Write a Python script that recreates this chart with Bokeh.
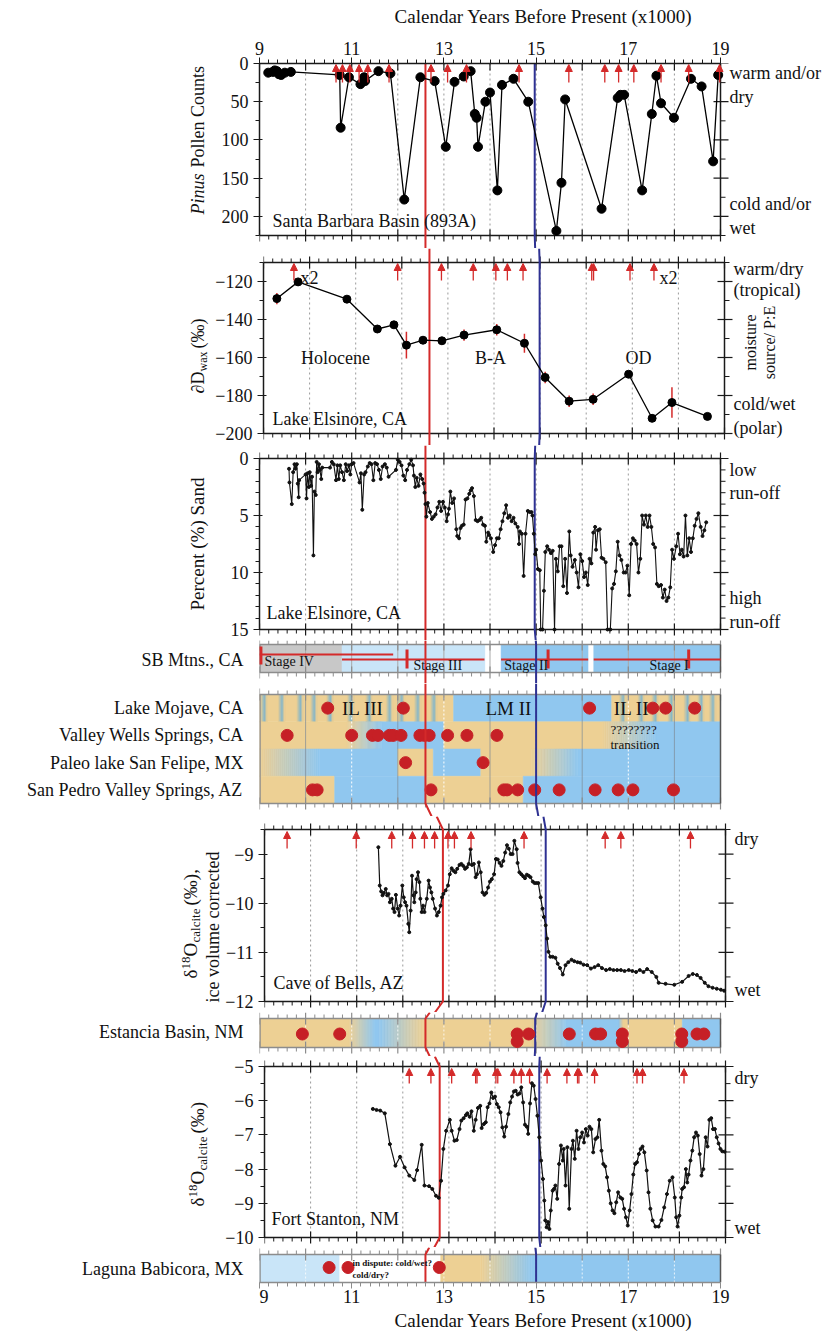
import numpy as np
from bokeh.plotting import figure
from bokeh.layouts import column, row
from bokeh.models import (Range1d, LinearAxis, FixedTicker, Label, Arrow,
                          NormalHead, ColumnDataSource)
from bokeh.embed import file_html
from bokeh.resources import INLINE

# ===================== DATA =====================
X_TICKS = [9, 11, 13, 15, 17, 19]
X_TITLE = "Calendar Years Before Present (x1000)"

pollen_age = [9.19, 9.29, 9.33, 9.38, 9.42, 9.47, 9.55, 9.68, 10.74, 10.76, 10.94, 11.19, 11.27, 11.29,
              11.58, 11.84, 12.14, 12.49, 12.80, 13.04, 13.23, 13.43, 13.58, 13.67, 13.71, 13.74, 13.90,
              14.00, 14.16, 14.26, 14.51, 14.83, 15.44, 15.55, 15.63, 16.42, 16.77, 16.83, 16.91, 17.30,
              17.51, 17.61, 17.71, 17.99, 18.36, 18.59, 18.84, 18.95]
pollen_count = [12, 11, 9, 10, 14, 15, 12, 11, 15, 84, 18, 27, 18, 23,
                10, 13, 178, 18, 23, 109, 24, 17, 10, 66, 71, 109, 50,
                38, 166, 28, 20, 50, 219, 156, 47, 190, 45, 41, 41, 166,
                66, 16, 52, 71, 20, 30, 128, 15]
pollen_arrows = [10.66, 10.80, 10.96, 11.16, 11.35, 11.81, 12.72, 13.08, 13.49, 14.63, 15.71,
                 16.49, 16.79, 17.12, 17.71, 18.31, 18.98]

dD_age = [9.29, 9.75, 10.81, 11.47, 11.83, 12.10, 12.46, 12.87, 13.35, 14.06, 14.66, 15.11,
          15.63, 16.15, 16.92, 17.43, 17.86, 18.63]
dD_val = [-129, -120.2, -129.3, -145, -142.8, -153.5, -150.9, -151.2, -148.2, -145.4, -152.5,
          -170.5, -183, -182, -168.8, -192, -183.7, -191]
dD_err = [3, 1.5, 1.5, 2, 2, 7, 2, 2, 3, 3, 5, 3, 3, 3, 1, 1, 8, 1]
dD_arrows = [9.66, 11.91, 12.86, 13.55, 14.04, 14.29, 14.63, 16.12, 16.16, 16.95, 17.47]

sand_age = [9.64, 9.65, 9.70, 9.73, 9.76, 9.78, 9.81, 9.83, 9.85, 9.86,
            10.00, 10.02, 10.04, 10.07, 10.09, 10.12, 10.14, 10.17, 10.19, 10.22, 10.24, 10.26, 10.29, 10.31, 10.34, 10.36,
            10.53, 10.57, 10.61, 10.66, 10.69, 10.72, 10.75, 10.79, 10.83, 10.87, 10.90, 10.94, 10.97, 11.00, 11.04,
            11.17, 11.20, 11.23, 11.27, 11.30, 11.35, 11.39, 11.43, 11.47, 11.51, 11.55, 11.59, 11.63, 11.67, 11.72, 11.76, 11.80,
            11.96, 12.00, 12.04, 12.08, 12.12, 12.16, 12.20, 12.25, 12.29, 12.33, 12.35, 12.38, 12.41, 12.45, 12.49, 12.53,
            12.56, 12.58, 12.60, 12.62, 12.65,
            12.70, 12.74, 12.78, 12.82, 12.86, 12.90, 12.94, 12.98, 13.02, 13.06, 13.09, 13.11, 13.14, 13.18, 13.22,
            13.27, 13.29, 13.33, 13.36, 13.39, 13.43, 13.47, 13.51, 13.55, 13.58, 13.61, 13.65, 13.69, 13.73, 13.77,
            13.81, 13.85, 13.89, 13.92, 13.96, 13.98, 14.02, 14.07, 14.11, 14.15, 14.19, 14.23, 14.27, 14.31, 14.35,
            14.39, 14.43, 14.47, 14.51, 14.55, 14.60, 14.63, 14.65, 14.69, 14.73, 14.77, 14.82, 14.86, 14.90, 14.92, 14.95,
            14.98, 15.00, 15.04, 15.08, 15.10, 15.14, 15.17, 15.20, 15.24, 15.28, 15.32, 15.36, 15.40, 15.43, 15.47,
            15.51, 15.55, 15.59, 15.63, 15.67, 15.72, 15.75, 15.79, 15.84, 15.88, 15.92, 15.96, 16.00, 16.04, 16.08,
            16.12, 16.16, 16.20, 16.24, 16.28, 16.30, 16.34, 16.38, 16.42, 16.46, 16.51, 16.55, 16.61, 16.65, 16.69,
            16.73, 16.77, 16.81, 16.85, 16.90, 16.94, 16.98, 17.02, 17.06, 17.10, 17.14, 17.18, 17.22, 17.26, 17.30,
            17.34, 17.38, 17.42, 17.46, 17.50, 17.54, 17.58, 17.62, 17.66, 17.71, 17.75, 17.79, 17.83, 17.87, 17.91,
            17.95, 17.99, 18.04, 18.08, 18.12, 18.16, 18.20, 18.24, 18.28, 18.32, 18.36, 18.40, 18.44, 18.48, 18.52,
            18.57, 18.61, 18.65, 18.69]
sand_pct = [0.9, 2.1, 4.0, 1.2, 0.5, 0.9, 0.5, 2.2, 3.4, 1.9,
            1.4, 3.5, 1.3, 2.5, 1.2, 2.4, 1.6, 8.5, 2.9, 3.2, 0.3, 1.2, 0.5, 1.0, 1.8, 0.8,
            0.8, 0.3, 0.5, 1.9, 0.6, 1.8, 0.6, 1.2, 1.9, 0.5, 1.1, 0.6, 1.4, 0.5, 0.4,
            2.1, 1.3, 4.5, 1.4, 1.2, 0.7, 0.4, 0.5, 1.9, 0.4, 0.5, 1.0, 1.8, 0.7, 0.5, 0.8, 1.6,
            1.0, 0.1, 0.3, 0.6, 1.5, 1.9, 1.0, 0.5, 0.1, 0.6, 1.5, 2.5, 1.7, 2.4, 1.4, 1.8,
            2.2, 3.0, 4.0, 5.1, 3.9,
            4.7, 5.3, 5.1, 4.9, 4.3, 3.8, 4.6, 3.8, 4.3, 5.5, 4.9, 4.4, 2.9, 3.9, 3.5,
            6.2, 6.8, 7.0, 6.1, 5.9, 5.8, 3.6, 3.5, 3.1, 2.8, 2.6, 3.3, 5.4, 5.5, 5.4,
            5.2, 5.8, 5.9, 7.3, 6.5, 6.7, 7.0, 8.2, 7.6, 7.0, 7.0, 6.2, 5.5, 4.8, 4.1,
            5.2, 5.0, 5.5, 5.2, 5.7, 6.0, 7.5, 6.4, 6.6, 10.3, 6.6, 4.6, 4.7, 4.7, 5.0, 6.6,
            8.4, 8.0, 9.7, 9.8, 15.0, 15.0, 11.6, 8.2, 7.7, 8.0, 8.3, 8.1, 15.0, 8.8, 9.9,
            7.7, 7.7, 11.2, 8.8, 11.8, 6.4, 8.5, 9.5, 8.9, 10.0, 11.3, 8.4, 9.0, 10.4, 10.0,
            11.1, 8.8, 9.2, 6.5, 6.0, 8.0, 6.3, 6.2, 8.7, 8.8, 9.1, 15.0, 15.0, 11.4, 11.0,
            9.9, 7.3, 8.5, 8.9, 10.0, 10.0, 9.4, 12.0, 7.5, 7.0, 7.2, 7.5, 10.0, 8.8, 5.0,
            5.8, 5.0, 6.0, 5.0, 6.0, 7.5, 7.8, 11.0, 11.2, 11.1, 12.2, 11.5, 12.5, 12.2, 11.3,
            8.0, 8.8, 7.7, 6.6, 8.4, 8.0, 8.6, 5.0, 8.5, 7.0, 8.2, 7.0, 5.9, 5.3, 4.8,
            6.0, 6.8, 6.3, 5.6]

cob_age = [11.47, 11.50, 11.53, 11.56, 11.59, 11.63, 11.66, 11.69, 11.72, 11.76,
           11.79, 11.82, 11.85, 11.89, 11.92, 11.95, 11.99, 12.02, 12.05, 12.08,
           12.12, 12.14, 12.17, 12.20, 12.23, 12.25, 12.28, 12.30, 12.33, 12.36,
           12.38, 12.41, 12.44, 12.47, 12.52, 12.56, 12.59, 12.62, 12.65, 12.70,
           12.74, 12.78, 12.82, 12.85, 12.88, 12.93, 12.98, 13.02, 13.06, 13.10,
           13.14, 13.18, 13.23, 13.27, 13.31, 13.35, 13.39, 13.43, 13.47, 13.50,
           13.54, 13.58, 13.61, 13.65, 13.69, 13.73, 13.77, 13.81, 13.85, 13.89,
           13.93, 13.98, 14.02, 14.06, 14.10, 14.14, 14.18, 14.22, 14.26, 14.30,
           14.34, 14.38, 14.42, 14.47, 14.49, 14.53, 14.57, 14.61, 14.65, 14.69,
           14.73, 14.77, 14.82, 14.86, 14.90, 14.94, 14.99, 15.03, 15.06, 15.10,
           15.13, 15.16, 15.20, 15.25, 15.31, 15.36, 15.41, 15.47, 15.53, 15.59,
           15.66, 15.72, 15.79, 15.85, 15.92, 16.00, 16.08, 16.16, 16.24, 16.32,
           16.41, 16.49, 16.57, 16.65, 16.73, 16.81, 16.90, 16.98, 17.06, 17.14,
           17.22, 17.30, 17.40, 17.50, 17.55, 17.70, 17.89, 18.06, 18.20, 18.29,
           18.38, 18.46, 18.55, 18.63, 18.72, 18.81, 18.90, 18.97]
cob_d18O = [-8.86, -9.64, -9.76, -9.84, -9.79, -9.71, -9.84, -9.81, -9.98, -9.91,
            -10.11, -10.18, -9.83, -10.11, -10.25, -10.05, -9.64, -9.88, -9.98, -10.05,
            -10.42, -10.59, -10.15, -9.44, -9.84, -9.98, -9.78, -9.51, -9.37, -9.57,
            -9.91, -10.18, -10.05, -10.18, -9.91, -9.54, -9.68, -9.78, -9.91, -10.11,
            -10.25, -10.18, -10.05, -9.88, -9.81, -9.74, -9.64, -9.41, -9.29, -9.34,
            -9.37, -9.30, -9.22, -9.20, -9.24, -9.30, -9.27, -9.20, -8.90, -9.22,
            -9.20, -9.47, -9.41, -9.17, -9.37, -9.78, -9.83, -9.79, -9.68, -9.56,
            -9.51, -9.41, -9.10, -9.11, -9.18, -9.24, -9.14, -8.97, -8.82, -8.89,
            -9.00, -9.00, -8.73, -8.90, -9.18, -9.37, -9.41, -9.45, -9.49, -9.42,
            -9.44, -9.47, -9.56, -9.59, -9.59, -9.59, -9.88, -10.11, -10.28, -10.45,
            -10.72, -10.99, -11.09, -11.09, -11.11, -11.23, -11.32, -11.45, -11.26, -11.20,
            -11.15, -11.18, -11.20, -11.21, -11.25, -11.26, -11.33, -11.30, -11.26, -11.32,
            -11.36, -11.34, -11.36, -11.36, -11.36, -11.38, -11.36, -11.38, -11.40, -11.36,
            -11.40, -11.34, -11.40, -11.50, -11.62, -11.64, -11.66, -11.60, -11.48, -11.44,
            -11.46, -11.52, -11.62, -11.69, -11.72, -11.74, -11.76, -11.78]
cob_arrows = [9.49, 10.99, 11.76, 12.21, 12.47, 12.69, 12.98, 13.12, 13.48, 14.63, 16.39, 16.73, 18.24]

fs_age = [11.35, 11.43, 11.51, 11.61, 11.72, 11.84, 11.94, 12.04, 12.14, 12.25,
          12.31, 12.41, 12.47, 12.57, 12.64, 12.72, 12.78, 12.83, 12.88, 12.94,
          13.02, 13.06, 13.12, 13.17, 13.23, 13.27, 13.32, 13.37, 13.40, 13.45,
          13.49, 13.54, 13.58, 13.63, 13.68, 13.71, 13.76, 13.80, 13.84, 13.88,
          13.92, 13.96, 14.00, 14.04, 14.08, 14.12, 14.16, 14.20, 14.24, 14.29,
          14.33, 14.37, 14.41, 14.45, 14.49, 14.53, 14.57, 14.61, 14.65, 14.69,
          14.72, 14.76, 14.80, 14.84, 14.88, 14.92, 14.96, 15.00, 15.04, 15.07,
          15.09, 15.12, 15.15, 15.18, 15.21, 15.25, 15.28, 15.31, 15.35, 15.39,
          15.43, 15.47, 15.49, 15.53, 15.57, 15.61, 15.66, 15.69, 15.73, 15.77,
          15.81, 15.85, 15.89, 15.93, 15.97, 16.01, 16.05, 16.09, 16.13, 16.18,
          16.22, 16.26, 16.31, 16.35, 16.39, 16.43, 16.47, 16.51, 16.55, 16.59,
          16.63, 16.67, 16.72, 16.76, 16.80, 16.84, 16.88, 16.92, 16.96, 17.00,
          17.04, 17.08, 17.12, 17.16, 17.20, 17.24, 17.29, 17.33, 17.37, 17.42,
          17.48, 17.55, 17.61, 17.67, 17.73, 17.79, 17.85, 17.90, 17.93, 17.96,
          18.00, 18.04, 18.06, 18.10, 18.14, 18.17, 18.20, 18.24, 18.28, 18.32,
          18.36, 18.40, 18.44, 18.48, 18.52, 18.57, 18.61, 18.65, 18.69, 18.73,
          18.77, 18.81, 18.85, 18.89, 18.93, 18.98]
fs_d18O = [-6.24, -6.27, -6.29, -6.37, -7.27, -7.90, -7.64, -7.95, -8.19, -8.32,
           -8.03, -7.29, -8.48, -8.50, -8.58, -8.78, -8.84, -8.34, -7.41, -6.88,
           -6.56, -6.88, -7.17, -7.15, -6.83, -6.58, -6.51, -6.42, -6.37, -6.47,
           -6.31, -6.88, -6.56, -6.21, -6.15, -6.80, -6.68, -6.63, -6.19, -6.08,
           -5.76, -5.92, -5.88, -6.10, -6.19, -6.34, -6.78, -7.05, -6.76, -6.39,
           -6.05, -5.88, -5.73, -5.71, -5.82, -5.79, -5.61, -6.05, -6.70, -6.76,
           -6.97, -6.08, -5.49, -5.56, -5.95, -6.44, -7.07, -7.75, -8.29, -8.92,
           -9.50, -9.70, -9.55, -9.75, -9.21, -8.63, -8.58, -8.48, -8.87, -7.85,
           -7.31, -7.75, -7.41, -8.48, -7.36, -9.16, -7.41, -7.17, -7.70, -6.88,
           -7.41, -7.07, -6.93, -7.22, -6.83, -7.02, -6.76, -6.83, -7.51, -7.12,
           -7.07, -6.56, -7.46, -7.85, -7.92, -8.24, -8.63, -9.00, -9.21, -9.29,
           -8.97, -8.68, -8.83, -8.87, -9.16, -9.41, -9.65, -9.21, -8.73, -8.16,
           -7.85, -7.80, -7.56, -7.41, -7.34, -7.51, -8.04, -8.68, -9.16, -9.50,
           -9.68, -9.68, -9.49, -9.12, -8.73, -8.34, -8.24, -8.83, -9.41, -9.68,
           -9.36, -8.83, -8.58, -8.53, -8.00, -8.39, -8.16, -7.75, -7.46, -7.07,
           -6.93, -7.02, -7.56, -8.19, -8.00, -7.07, -7.34, -6.56, -6.51, -6.83,
           -6.83, -7.07, -7.25, -7.41, -7.48, -7.49]
fs_arrows = [12.14, 12.61, 13.06, 13.58, 13.61, 14.02, 14.06, 14.41, 14.57, 14.75, 15.13, 15.56,
             15.79, 15.82, 16.16, 17.08, 17.20, 18.10]

# boundary lines (age of the red and blue transitions in each panel, top to bottom)
red_line_age = [12.6, 12.6, 12.6, 12.6, 12.6, 12.87, 12.6, 12.8, 12.6]
blue_line_age = [14.97, 14.99, 14.97, 15.0, 15.0, 15.1, 14.98, 14.96, 15.0]

# strips: (start, end, colour at start, colour at end)
sb_bands = [(9.0, 10.79, "gray", "gray"), (10.79, 13.9, "light", "light"), (13.9, 14.24, "white", "white"),
            (14.24, 16.14, "blue", "blue"), (16.14, 16.25, "white", "white"), (16.25, 19.0, "blue", "blue")]
sb_age_lines = [(9.0, 11.9, 0.64), (10.79, 13.88, 0.46), (14.24, 16.13, 0.46), (16.25, 19.0, 0.46)]
sb_marks = [9.02, 12.2, 15.26, 18.31]
sb_stage_names = ["Stage IV", "Stage III", "Stage II", "Stage I"]
sb_stage_age = [9.11, 12.34, 14.31, 17.46]

strip_rows = ["San Pedro Valley Springs, AZ", "Paleo lake San Felipe, MX", "Valley Wells Springs, CA", "Lake Mojave, CA"]
mojave_bands = [(9.0, 13.21, "tan", "tan"), (13.21, 16.64, "blue", "blue"), (16.64, 19.0, "tan", "tan")]
mojave_stripes = [9.12, 9.5, 9.9, 10.2, 10.55, 11.0, 11.4, 11.84, 12.1, 12.45, 12.8,
                  16.9, 17.3, 17.6, 17.95, 18.3, 18.6, 18.85]
wells_bands = [(9.0, 10.9, "tan", "tan"), (10.9, 11.65, "tan", "blue"), (11.65, 13.0, "blue", "blue"),
               (13.0, 16.45, "tan", "tan"), (16.45, 17.6, "tan", "blue"), (17.6, 19.0, "blue", "blue")]
felipe_bands = [(9.0, 10.3, "tan", "blue"), (10.3, 12.0, "blue", "blue"), (12.0, 12.77, "tan", "tan"),
                (12.77, 13.8, "blue", "blue"), (13.8, 14.9, "tan", "tan"), (14.9, 15.9, "tan", "blue"),
                (15.9, 19.0, "blue", "blue")]
pedro_bands = [(9.0, 10.63, "tan", "tan"), (10.63, 12.62, "blue", "blue"), (12.62, 14.72, "tan", "tan"),
               (14.72, 19.0, "blue", "blue")]
mojave_dates = [10.48, 12.12, 16.16, 17.53, 17.81, 18.44]
wells_dates = [9.6, 11.0, 11.45, 11.57, 11.82, 11.9, 12.07, 12.48, 12.58, 12.68, 13.08, 13.5, 14.15]
felipe_dates = [12.17, 13.85]
pedro_dates = [10.15, 10.25, 12.72, 14.3, 14.37, 14.6, 14.97, 15.5, 16.28, 16.78, 17.1, 17.98]
strip_phase_names = ["IL III", "LM II", "IL II"]
strip_phase_age = [11.24, 14.4, 17.07]

estancia_bands = [(9.0, 10.95, "tan", "tan"), (10.95, 11.5, "tan", "blue"), (11.5, 11.6, "blue", "blue"),
                  (11.6, 12.56, "blue", "tan"), (12.56, 14.88, "tan", "tan"), (14.88, 15.67, "tan", "blue"),
                  (15.67, 16.8, "blue", "blue"), (16.8, 16.9, "blue", "tan"), (16.9, 18.17, "tan", "tan"),
                  (18.17, 19.0, "blue", "blue")]
estancia_dates = [9.93, 10.74, 14.59, 14.84, 15.72, 16.29, 16.40, 16.87, 18.16, 18.49, 18.64]
estancia_dates_low = [14.59, 16.87, 18.16]

babicora_bands = [(9.0, 10.74, "light", "light"), (10.74, 12.93, "white", "white"), (12.93, 13.8, "tan", "tan"),
                  (13.8, 14.9, "tan", "blue"), (14.9, 19.0, "blue", "blue")]
babicora_dates = [10.51, 10.92, 12.9]

# ===================== STYLE / LAYOUT =====================
SERIF = "Liberation Serif"
RED = "#D42A2A"
DOT_RED = "#C62026"
NAVY = "#2E3192"
COL = {"tan": "#EDD094", "blue": "#90C7EF", "light": "#C9E5F8", "gray": "#C8C8C8", "white": "#FFFFFF",
       "teal": "#86B8CC"}
AXIS_COL = "#1a1a1a"
STRIP_EDGE = "#8c8c8c"
TXT = "#111111"

L = 259                     # page x of age 9
PPK = 46.1                  # pixels per 1000 years
PW = 827 - L                # panel frame width (extends into the right margin)
XR = Range1d(9, 9 + PW / PPK)


def px2x(px):
    return 9 + (px - L) / PPK


# (frame top, frame bottom, panel top, panel bottom, value at top, value at bottom) in page pixels
SPECS = [
    (63, 248, 63, 235, 0, 225),          # pollen
    (248, 445, 262, 433, -110, -200),    # dD wax
    (445, 640, 458, 629, 0, 15),         # sand
    (640, 683, 644, 672, 1, 0),          # SB Mtns
    (683, 816, 694, 803, 4, 0),          # multi strip
    (816, 1012, 829, 1001, -8.5, -12),   # Cave of Bells
    (1012, 1056, 1018, 1047, 1, 0),      # Estancia
    (1056, 1247, 1066, 1237, -5, -10),   # Fort Stanton
    (1247, 1282, 1254, 1282, 1, 0),      # Babicora
]


def mk(i, lw, top=0, bottom=0):
    ft, fb, pt, pb, vt, vb = SPECS[i]

    def v(py):
        return vt + (py - pt) * (vb - vt) / float(pb - pt)

    yr = Range1d(start=v(fb), end=v(ft))
    common = dict(frame_height=fb - ft, y_range=yr, x_axis_location=None, y_axis_location=None,
                  toolbar_location=None, output_backend="svg", title=None,
                  min_border_top=top, min_border_bottom=bottom, min_border_right=0)
    p = figure(frame_width=PW, x_range=XR, min_border_left=L - lw, **common)
    lf = figure(frame_width=lw, x_range=Range1d(0, lw), min_border_left=0, **common)
    for f in (p, lf):
        f.outline_line_color = None
        f.xgrid.visible = False
        f.ygrid.visible = False
        f.background_fill_color = "white"
        f.border_fill_color = "white"
    return p, lf, v


def hedge(p, v, py, outward, color=AXIS_COL, width=1.5):
    p.segment(x0=[9], x1=[19], y0=[v(py)], y1=[v(py)], line_color=color, line_width=width)
    mins = [x for x in np.round(np.arange(9, 19.001, 0.2), 2) if abs(x - round(x)) > 1e-6]
    majs = list(range(9, 20))
    p.segment(x0=mins, x1=mins, y0=[v(py)] * len(mins), y1=[v(py + outward * 4)] * len(mins),
              line_color=color, line_width=1)
    p.segment(x0=majs, x1=majs, y0=[v(py - 6)] * len(majs), y1=[v(py + 6)] * len(majs),
              line_color=color, line_width=1.2)


def right_edge(p, v, i, ticks=(), minor=(), color=AXIS_COL, width=1.5):
    ft, fb, pt, pb, vt, vb = SPECS[i]
    p.segment(x0=[19], x1=[19], y0=[v(pt)], y1=[v(pb)], line_color=color, line_width=width)
    if ticks:
        p.segment(x0=[19 - 7 / PPK] * len(ticks), x1=[19 + 8 / PPK] * len(ticks), y0=list(ticks), y1=list(ticks),
                  line_color=color, line_width=1.2)
    if minor:
        p.segment(x0=[19] * len(minor), x1=[19 + 5 / PPK] * len(minor), y0=list(minor), y1=list(minor),
                  line_color=color, line_width=1)


def left_edge(p, v, i, color=STRIP_EDGE):
    ft, fb, pt, pb, vt, vb = SPECS[i]
    p.segment(x0=[9], x1=[9], y0=[v(pt)], y1=[v(pb)], line_color=color, line_width=2.5)


def grid(p, v, i, color="#9a9a9a", dash="2 3"):
    ft, fb, pt, pb, vt, vb = SPECS[i]
    gx = list(range(10, 19))
    p.segment(x0=gx, x1=gx, y0=[v(pt)] * len(gx), y1=[v(pb)] * len(gx),
              line_color=color, line_width=1, line_dash=dash)


def yaxis(p, ticks, minor, bounds):
    ax = LinearAxis(ticker=FixedTicker(ticks=ticks, minor_ticks=minor), bounds=bounds)
    ax.axis_line_color = AXIS_COL
    ax.axis_line_width = 1.5
    ax.major_tick_line_color = AXIS_COL
    ax.minor_tick_line_color = AXIS_COL
    ax.major_label_text_font = SERIF
    ax.major_label_text_color = TXT
    ax.major_tick_in, ax.major_tick_out = 3, 6
    ax.minor_tick_in, ax.minor_tick_out = 0, 4
    ax.major_label_text_font_size = "18px"
    ax.major_label_standoff = 5
    p.add_layout(ax, "left")


def boundary_lines(p, v, i):
    ft, fb, pt, pb, vt, vb = SPECS[i]
    for ages, color in ((red_line_age, RED), (blue_line_age, NAVY)):
        xi = ages[i]
        if i == 0:
            xt = xi
        else:
            ppb = SPECS[i - 1][3]
            xt = ages[i - 1] + (xi - ages[i - 1]) * (ft - ppb) / float(pt - ppb)
        if i == len(SPECS) - 1:
            xb = xi
        else:
            npt = SPECS[i + 1][2]
            xb = xi + (ages[i + 1] - xi) * (fb - pb) / float(npt - pb)
        p.line([xt, xi, xi, xb], [v(ft), v(pt), v(pb), v(fb)], line_color=color, line_width=2)


def arrows(p, xs, y_tail, y_tip):
    src = ColumnDataSource(dict(x=xs, y0=[y_tail] * len(xs), y1=[y_tip] * len(xs)))
    p.add_layout(Arrow(end=NormalHead(size=7, fill_color=RED, line_color=RED, line_width=1),
                       x_start="x", y_start="y0", x_end="x", y_end="y1", source=src,
                       line_color=RED, line_width=1.3))


def lab(p, x, y, text, size="18px", align="left", style="normal", angle=0.0, color=TXT):
    p.add_layout(Label(x=x, y=y, text=text, text_font=SERIF, text_font_size=size,
                       text_font_style=style, text_align=align, text_baseline="middle",
                       angle=angle, text_color=color))


def vlabel(lf, v, x_px, y_start_px, pieces):
    y = y_start_px
    for text, size, style, dx, w in pieces:
        lab(lf, x_px + dx, v(y), text, size="%dpx" % size, style=style, angle=np.pi / 2)
        y -= w


def bands(p, segs, y0, y1, n=30):
    for x0, x1, c0, c1 in segs:
        a, b = COL[c0], COL[c1]
        if a == b:
            p.quad(left=x0, right=x1, bottom=y0, top=y1, fill_color=a, line_color=a, line_width=0.5)
        else:
            ca = np.array([int(a[k:k + 2], 16) for k in (1, 3, 5)], float)
            cb = np.array([int(b[k:k + 2], 16) for k in (1, 3, 5)], float)
            xs = np.linspace(x0, x1, n + 1)
            cols = []
            for k in range(n):
                t = (k + 0.5) / n
                c = ca + (cb - ca) * t
                cols.append("#%02x%02x%02x" % tuple(int(round(u)) for u in c))
            p.quad(left=xs[:-1], right=xs[1:], bottom=[y0] * n, top=[y1] * n,
                   fill_color=cols, line_color=cols, line_width=0.6)


def stripes(p, centers, y0, y1):
    segs = []
    for c in centers:
        segs.append((c - 0.09, c, "tan", "teal"))
        segs.append((c, c + 0.05, "teal", "tan"))
    bands(p, segs, y0, y1, n=12)


def row_name(lf, lw, v, py, text):
    lab(lf, lw - 16, v(py), text, align="right")


def x_axis(loc, color):
    ax = LinearAxis(ticker=FixedTicker(ticks=X_TICKS, minor_ticks=list(np.round(np.arange(9, 19.001, 0.2), 2))),
                    bounds=(9, 19), axis_label=X_TITLE)
    ax.axis_line_width = 1.5
    ax.axis_line_color = color
    ax.major_tick_line_color = color
    ax.minor_tick_line_color = color
    ax.major_tick_in, ax.major_tick_out = 0, 6
    ax.minor_tick_in, ax.minor_tick_out = 0, 4
    ax.major_label_text_font = SERIF
    ax.major_label_text_font_size = "18px"
    ax.major_label_text_color = TXT
    ax.major_label_standoff = 3 if loc == "above" else 1
    ax.axis_label_text_font = SERIF
    ax.axis_label_text_font_size = "19px"
    ax.axis_label_text_font_style = "normal"
    ax.axis_label_text_color = TXT
    ax.axis_label_standoff = 12 if loc == "above" else 4
    return ax


RX = px2x(729)
rows = []

# ---------- 1. Pollen ----------
p, lf, v = mk(0, 214, top=63)
p.add_layout(x_axis("above", AXIS_COL), "above")
ft, fb, pt, pb, vt, vb = SPECS[0]
grid(p, v, 0)
majs = list(range(9, 20))
p.segment(x0=majs, x1=majs, y0=[v(pt)] * 11, y1=[v(pt + 7)] * 11, line_color=AXIS_COL, line_width=1.2)
hedge(p, v, pb, +1)
yaxis(p, [0, 50, 100, 150, 200], [25, 75, 125, 175, 225], (0, 225))
right_edge(p, v, 0, [0, 50, 100, 150, 200], [25, 75, 125, 175, 225])
boundary_lines(p, v, 0)
arrows(p, pollen_arrows, v(pt + 19), v(pt + 1))
p.line(pollen_age, pollen_count, line_color="black", line_width=1.3)
p.scatter(pollen_age, pollen_count, size=9, color="black")
lab(p, px2x(272), v(220), "Santa Barbara Basin (893A)")
for t, py in (("warm and/or", 72), ("dry", 96), ("cold and/or", 203), ("wet", 227)):
    lab(p, RX, v(py), t)
vlabel(lf, v, 197, 214, [("Pinus", 18, "italic", 0, 47), ("Pollen Counts", 18, "normal", 0, 100)])
rows.append(row(lf, p))

# ---------- 2. dD wax ----------
p, lf, v = mk(1, 212)
ft, fb, pt, pb, vt, vb = SPECS[1]
grid(p, v, 1)
hedge(p, v, pt, -1)
hedge(p, v, pb, +1)
yaxis(p, [-120, -140, -160, -180, -200], [-110, -130, -150, -170, -190], (-200, -110))
right_edge(p, v, 1, [-120, -140, -160, -180, -200], [-110, -130, -150, -170, -190])
boundary_lines(p, v, 1)
arrows(p, dD_arrows, v(pt + 18), v(pt + 1))
p.segment(x0=dD_age, x1=dD_age, y0=[a - e for a, e in zip(dD_val, dD_err)],
          y1=[a + e for a, e in zip(dD_val, dD_err)], line_color=RED, line_width=1.5)
p.line(dD_age, dD_val, line_color="black", line_width=1.3)
p.scatter(dD_age, dD_val, size=8, color="black")
lab(p, px2x(296), v(277), "x2")
lab(p, px2x(655), v(277), "x2")
lab(p, px2x(331), v(357), "Holocene", align="center")
lab(p, px2x(486), v(357), "B-A", align="center")
lab(p, px2x(634), v(357), "OD", align="center")
lab(p, px2x(268), v(418), "Lake Elsinore, CA")
for t, py in (("warm/dry", 268), ("(tropical)", 289), ("cold/wet", 403), ("(polar)", 427)):
    lab(p, RX, v(py), t)
lab(p, px2x(746), v(342), "moisture", size="16px", align="center", angle=np.pi / 2)
lab(p, px2x(765), v(342), "source/ P:E", size="16px", align="center", angle=np.pi / 2)
vlabel(lf, v, 197, 393, [("\u2202D", 18, "normal", 0, 22), ("wax", 12, "normal", 5, 23),
                          ("(\u2030)", 18, "normal", 0, 36)])
rows.append(row(lf, p))

# ---------- 3. Sand ----------
p, lf, v = mk(2, 214)
ft, fb, pt, pb, vt, vb = SPECS[2]
grid(p, v, 2)
hedge(p, v, pt, -1)
hedge(p, v, pb, +1)
yaxis(p, [0, 5, 10, 15], [1, 2, 3, 4, 6, 7, 8, 9, 11, 12, 13, 14], (0, 15))
right_edge(p, v, 2, [0, 5, 10, 15], [1, 2, 3, 4, 6, 7, 8, 9, 11, 12, 13, 14])
boundary_lines(p, v, 2)
n = min(len(sand_age), len(sand_pct))
p.line(sand_age[:n], sand_pct[:n], line_color=TXT, line_width=1.1)
p.scatter(sand_age[:n], sand_pct[:n], size=3, color=TXT)
lab(p, px2x(266), v(612), "Lake Elsinore, CA")
for t, py in (("low", 469), ("run-off", 492), ("high", 597), ("run-off", 621)):
    lab(p, RX, v(py), t)
vlabel(lf, v, 197, 610, [("Percent (%) Sand", 19, "normal", 0, 130)])
rows.append(row(lf, p))

# ---------- 4. SB Mtns ----------
p, lf, v = mk(3, 259)
ft, fb, pt, pb, vt, vb = SPECS[3]
bands(p, sb_bands, 0, 1)
grid(p, v, 3, color="#a8a8a8", dash="solid")
hedge(p, v, pt, -1, color=STRIP_EDGE)
hedge(p, v, pb, +1, color=STRIP_EDGE)
left_edge(p, v, 3)
right_edge(p, v, 3, color="#555555")
for x0, x1, yy in sb_age_lines:
    p.segment(x0=[x0], x1=[x1], y0=[yy], y1=[yy], line_color=RED, line_width=2)
p.segment(x0=sb_marks[:1], x1=sb_marks[:1], y0=[v(664)], y1=[v(646)], line_color=RED, line_width=4)
p.segment(x0=sb_marks[1:], x1=sb_marks[1:], y0=[v(668)] * 3, y1=[v(649)] * 3, line_color=RED, line_width=3)
for name, ag, py in zip(sb_stage_names, sb_stage_age, [661, 665, 665, 665]):
    lab(p, ag, v(py), name, size="14px")
boundary_lines(p, v, 3)
row_name(lf, 259, v, 659, "SB Mtns., CA")
rows.append(row(lf, p))

# ---------- 5. multi strip ----------
p, lf, v = mk(4, 259)
ft, fb, pt, pb, vt, vb = SPECS[4]
bands(p, mojave_bands, 3, 4)
stripes(p, mojave_stripes, 3, 4)
bands(p, wells_bands, 2, 3)
bands(p, felipe_bands, 1, 2)
bands(p, pedro_bands, 0, 1)
gx_even = [10, 12, 14, 16, 18]
gx_odd = [11, 13, 15, 17]
p.segment(x0=gx_even, x1=gx_even, y0=[0] * 5, y1=[4] * 5, line_color="#7d8a96", line_width=1, line_alpha=0.7)
p.segment(x0=gx_odd, x1=gx_odd, y0=[0] * 4, y1=[4] * 4, line_color="white", line_width=1, line_dash="2 2")
hedge(p, v, pt, -1, color=STRIP_EDGE)
hedge(p, v, pb, +1, color=STRIP_EDGE)
left_edge(p, v, 4)
right_edge(p, v, 4, color="#555555")
for dates, yy in ((mojave_dates, 3.5), (wells_dates, 2.5), (felipe_dates, 1.5), (pedro_dates, 0.5)):
    p.scatter(dates, [yy] * len(dates), size=12, color=DOT_RED)
for name, ag in zip(strip_phase_names, strip_phase_age):
    lab(p, ag, v(708), name, size="19px", align="center")
lab(p, px2x(610), v(729), "????????", size="13px")
lab(p, px2x(610), v(744), "transition", size="13px")
boundary_lines(p, v, 4)
for name, yy in zip(strip_rows, [0.5, 1.5, 2.5, 3.5]):
    lab(lf, 259 - 16, yy, name, align="right")
rows.append(row(lf, p))

# ---------- 6. Cave of Bells ----------
p, lf, v = mk(5, 222)
ft, fb, pt, pb, vt, vb = SPECS[5]
grid(p, v, 5)
hedge(p, v, pt, -1)
hedge(p, v, pb, +1)
yaxis(p, [-9, -10, -11, -12], [-8.5, -9.5, -10.5, -11.5], (-12, -8.5))
right_edge(p, v, 5, [-9, -10, -11, -12], [-8.5, -9.5, -10.5, -11.5])
boundary_lines(p, v, 5)
arrows(p, cob_arrows, v(pt + 19), v(pt + 2))
p.line(cob_age, cob_d18O, line_color=TXT, line_width=1.2)
p.scatter(cob_age, cob_d18O, size=3, color=TXT)
lab(p, px2x(268), v(982), "Cave of Bells, AZ")
lab(p, RX, v(838), "dry")
lab(p, RX, v(989), "wet")
vlabel(lf, v, 190, 978, [("\u03b4", 19, "normal", 0, 9), ("18", 13, "normal", -5, 13), ("O", 19, "normal", 0, 14),
                          ("calcite", 13, "normal", 5, 37), ("(\u2030),", 19, "normal", 0, 40)])
vlabel(lf, v, 212, 1002, [("ice volume corrected", 18, "normal", 0, 150)])
rows.append(row(lf, p))

# ---------- 7. Estancia ----------
p, lf, v = mk(6, 259)
ft, fb, pt, pb, vt, vb = SPECS[6]
bands(p, estancia_bands, 0, 1)
p.segment(x0=list(range(10, 19)), x1=list(range(10, 19)), y0=[0] * 9, y1=[1] * 9,
          line_color="white", line_width=1, line_dash="2 2", line_alpha=0.8)
hedge(p, v, pt, -1, color=STRIP_EDGE)
hedge(p, v, pb, +1, color=STRIP_EDGE)
left_edge(p, v, 6)
right_edge(p, v, 6, color="#555555")
boundary_lines(p, v, 6)
p.scatter(estancia_dates, [v(1033.5)] * len(estancia_dates), size=12, color=DOT_RED)
p.scatter(estancia_dates_low, [v(1041)] * len(estancia_dates_low), size=12, color=DOT_RED)
row_name(lf, 259, v, 1031, "Estancia Basin, NM")
rows.append(row(lf, p))

# ---------- 8. Fort Stanton ----------
p, lf, v = mk(7, 222)
ft, fb, pt, pb, vt, vb = SPECS[7]
grid(p, v, 7)
hedge(p, v, pt, -1)
hedge(p, v, pb, +1)
yaxis(p, [-5, -6, -7, -8, -9, -10], [-5.5, -6.5, -7.5, -8.5, -9.5], (-10, -5))
right_edge(p, v, 7, [-5, -6, -7, -8, -9, -10], [-5.5, -6.5, -7.5, -8.5, -9.5])
boundary_lines(p, v, 7)
arrows(p, fs_arrows, v(pt + 17), v(pt + 2))
p.line(fs_age, fs_d18O, line_color=TXT, line_width=1.2)
p.scatter(fs_age, fs_d18O, size=3, color=TXT)
lab(p, px2x(266), v(1218), "Fort Stanton, NM")
lab(p, RX, v(1077), "dry")
lab(p, RX, v(1227), "wet")
vlabel(lf, v, 197, 1206, [("\u03b4", 19, "normal", 0, 9), ("18", 13, "normal", -5, 13), ("O", 19, "normal", 0, 14),
                           ("calcite", 13, "normal", 5, 37), ("(\u2030)", 19, "normal", 0, 36)])
rows.append(row(lf, p))

# ---------- 9. Laguna Babicora ----------
p, lf, v = mk(8, 259, bottom=51)
ft, fb, pt, pb, vt, vb = SPECS[8]
bands(p, babicora_bands, 0, 1)
p.segment(x0=list(range(10, 19)), x1=list(range(10, 19)), y0=[0] * 9, y1=[1] * 9,
          line_color="white", line_width=1, line_dash="2 2", line_alpha=0.8)
hedge(p, v, pt, -1, color=STRIP_EDGE)
left_edge(p, v, 8)
right_edge(p, v, 8, color="#555555")
p.add_layout(x_axis("below", STRIP_EDGE), "below")
boundary_lines(p, v, 8)
p.scatter(babicora_dates, [v(1267)] * len(babicora_dates), size=12, color=DOT_RED)
lab(p, px2x(352), v(1262), "in dispute: cold/wet?", size="9px", style="bold")
lab(p, px2x(352), v(1274), "cold/dry?", size="9px", style="bold")
row_name(lf, 259, v, 1268, "Laguna Babicora, MX")
rows.append(row(lf, p))

layout = column(*rows, spacing=0)
open("out.html", "w").write(file_html(layout, INLINE, title="Paleoclimate records"))
